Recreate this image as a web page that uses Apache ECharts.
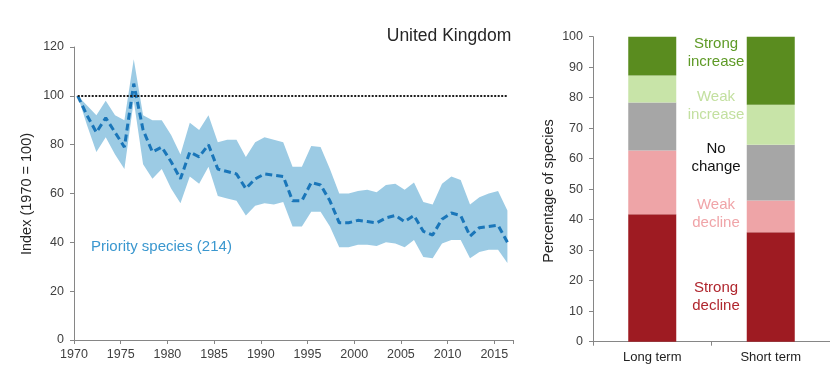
<!DOCTYPE html>
<html><head><meta charset="utf-8">
<script src="https://cdn.jsdelivr.net/npm/echarts@6/dist/echarts.min.js"></script>
<style>html,body{margin:0;padding:0;background:#fff}#c{width:830px;height:371px}</style>
</head><body><div id="c"></div>
<script>
// ---- Left panel data: UK priority species index (1970 = 100) ----
const years = [];
for (let y = 1970; y <= 2016; y++) years.push(String(y));
const meanIndex = [
  100, 92, 85, 91, 85, 79, 105, 86, 77, 79,
  73, 66, 77, 75, 80, 70, 69, 68, 62, 66,
  68, 67.5, 67, 57, 57, 64.5, 63.5, 57, 48, 48,
  49, 48.5, 48, 50, 51, 48.5, 51, 44.5, 43, 49.5,
  52, 51, 42.5, 46, 46.5, 47, 40
];
const upperCI = [
  100, 96, 92, 98, 92, 90, 115, 92, 90, 90,
  84, 76, 89, 86, 92, 81, 82, 82, 75, 81,
  83, 82, 81, 71, 71, 79.5, 79, 70, 60, 60,
  61, 61.5, 60.5, 63.5, 64, 61.5, 64.5, 56.5, 55.5, 64,
  67, 65.5, 55.5, 58.5, 60, 61, 53
];
const lowerCI = [
  100, 88, 77, 83, 76, 70, 98, 72, 66, 70,
  62, 56, 67, 64, 71, 59, 58, 57, 51, 55,
  56, 55.5, 56.5, 46.5, 46.5, 52.5, 52.5, 46.5, 38, 38,
  39, 39, 38.5, 40, 39.5, 38, 41, 34, 33.5, 39.5,
  41, 41, 33.5, 36, 37, 37, 31.5
];
const baselineValue = 100;
const yTicksLeft = [0, 20, 40, 60, 80, 100, 120];
const xTickYears = [1970, 1975, 1980, 1985, 1990, 1995, 2000, 2005, 2010, 2015];

// ---- Right panel data: percentage of species by trend ----
const periods = ['Long term', 'Short term'];
const trendNames = ['Strong decline', 'Weak decline', 'No change', 'Weak increase', 'Strong increase'];
const strongDecline = [41.8, 35.9];
const weakDecline = [20.9, 10.4];
const noChange = [15.7, 18.3];
const weakIncrease = [8.9, 13.1];
const strongIncrease = [12.7, 22.3];

const FONT = 'Liberation Sans, Arial, sans-serif';
const AX = '#868686';
const LBL = '#404040';

const bandDiff = upperCI.map((u, i) => u - lowerCI[i]);

const trendSeries = [strongDecline, weakDecline, noChange, weakIncrease, strongIncrease];
const trendColors = ['#9e1b22', '#eea4a7', '#a6a6a6', '#c8e4a8', '#5a8c1f'];

const chart = echarts.init(document.getElementById('c'), null, {renderer: 'canvas'});
chart.setOption({
  animation: false,
  backgroundColor: '#fff',
  grid: [
    {left: 74, top: 47, width: 439, height: 293},
    {left: 77.7, top: 47, width: 429.7, height: 293},
    {left: 593, top: 36.7, width: 244, height: 305}
  ],
  xAxis: [
    {
      gridIndex: 0, type: 'value', min: 1970, max: 2017, interval: 5,
      axisLine: {lineStyle: {color: AX, width: 1}},
      axisTick: {show: true, length: 4, lineStyle: {color: AX}},
      splitLine: {show: false},
      axisLabel: {
        color: LBL, fontFamily: FONT, fontSize: 12.5, margin: 8,
        formatter: v => (xTickYears.indexOf(v) >= 0 ? String(v) : '')
      }
    },
    {
      gridIndex: 1, type: 'category', data: years, boundaryGap: false, show: false
    },
    {
      gridIndex: 2, type: 'category', data: periods,
      axisLine: {lineStyle: {color: AX}},
      axisTick: {show: true, length: 4, lineStyle: {color: AX}},
      axisLabel: {color: '#222', fontFamily: FONT, fontSize: 13, margin: 9}
    }
  ],
  yAxis: [
    {
      gridIndex: 0, type: 'value', min: 0, max: 120, interval: 20,
      axisLine: {show: true, lineStyle: {color: AX}},
      axisTick: {show: true, length: 4, lineStyle: {color: AX}},
      splitLine: {show: false},
      axisLabel: {color: LBL, fontFamily: FONT, fontSize: 12.5, margin: 10}
    },
    {gridIndex: 1, type: 'value', min: 0, max: 120, show: false},
    {
      gridIndex: 2, type: 'value', min: 0, max: 100, interval: 10,
      axisLine: {show: true, lineStyle: {color: AX}},
      axisTick: {show: true, length: 4, lineStyle: {color: AX}},
      splitLine: {show: false},
      axisLabel: {color: LBL, fontFamily: FONT, fontSize: 12.5, margin: 10}
    }
  ],
  series: [
    {
      name: 'lower', type: 'line', xAxisIndex: 1, yAxisIndex: 1, stack: 'ci',
      data: lowerCI, symbol: 'none', lineStyle: {opacity: 0}, silent: true
    },
    {
      name: 'band', type: 'line', xAxisIndex: 1, yAxisIndex: 1, stack: 'ci',
      data: bandDiff, symbol: 'none', lineStyle: {opacity: 0},
      areaStyle: {color: '#9ccbe4', opacity: 1}, silent: true
    },
    {
      name: 'Priority species (214)', type: 'line', xAxisIndex: 1, yAxisIndex: 1,
      data: meanIndex, symbol: 'none',
      lineStyle: {color: '#1a76b9', width: 3, type: [7, 4]},
      markLine: {
        silent: true, symbol: 'none', label: {show: false},
        lineStyle: {color: '#1e1e1e', width: 2, type: [2, 1.5]},
        data: [[{coord: [years[0], baselineValue]}, {coord: [years[years.length - 1], baselineValue]}]]
      },
      z: 4
    },
    ...trendSeries.map((d, i) => ({
      name: trendNames[i], type: 'bar', xAxisIndex: 2, yAxisIndex: 2, stack: 'trend',
      data: d, barWidth: 48, itemStyle: {color: trendColors[i]}
    }))
  ],
  graphic: [
    {type: 'text', x: 449, y: 36, style: {text: 'United Kingdom', fill: '#262626', font: '17.5px ' + FONT, textAlign: 'center', textVerticalAlign: 'middle'}},
    {type: 'text', x: 91, y: 247, style: {text: 'Priority species (214)', fill: '#3a97cf', font: '15px ' + FONT, textVerticalAlign: 'middle'}},
    {type: 'text', x: 27, y: 194, rotation: Math.PI / 2, style: {text: 'Index (1970 = 100)', fill: '#262626', font: '14.5px ' + FONT, textAlign: 'center', textVerticalAlign: 'middle'}},
    {type: 'text', x: 549, y: 191, rotation: Math.PI / 2, style: {text: 'Percentage of species', fill: '#262626', font: '14.5px ' + FONT, textAlign: 'center', textVerticalAlign: 'middle'}},
    {type: 'text', x: 716, y: 53, style: {text: 'Strong\nincrease', fill: '#5e9a26', font: '15px ' + FONT, textAlign: 'center', textVerticalAlign: 'middle', lineHeight: 17.5}},
    {type: 'text', x: 716, y: 106, style: {text: 'Weak\nincrease', fill: '#c3e0a0', font: '15px ' + FONT, textAlign: 'center', textVerticalAlign: 'middle', lineHeight: 17.5}},
    {type: 'text', x: 716, y: 158, style: {text: 'No\nchange', fill: '#111', font: '15px ' + FONT, textAlign: 'center', textVerticalAlign: 'middle', lineHeight: 17.5}},
    {type: 'text', x: 716, y: 214, style: {text: 'Weak\ndecline', fill: '#f0a4a8', font: '15px ' + FONT, textAlign: 'center', textVerticalAlign: 'middle', lineHeight: 17.5}},
    {type: 'text', x: 716, y: 297, style: {text: 'Strong\ndecline', fill: '#b0262e', font: '15px ' + FONT, textAlign: 'center', textVerticalAlign: 'middle', lineHeight: 17.5}}
  ]
});
</script>
</body></html>
